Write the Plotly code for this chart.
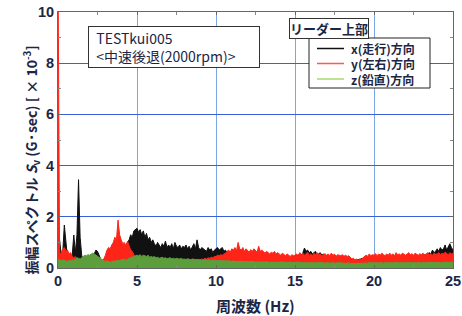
import numpy as np
import plotly.graph_objects as go

freq = np.round(np.arange(0, 25.001, 0.1), 1)

x_dir = [
 0.90,1.10,0.50,0.60,1.68,0.90,0.40,0.30,0.35,0.50,
 1.29,0.60,1.30,3.45,1.20,0.50,0.30,0.25,0.30,0.22,
 0.30,0.28,0.40,0.55,0.70,0.65,0.50,0.35,0.30,0.30,
 0.30,0.35,0.30,0.40,0.35,0.40,0.50,0.45,0.50,0.60,
 0.60,0.70,0.80,0.90,1.00,1.10,1.30,1.20,1.45,1.50,
 1.55,1.40,1.50,1.30,1.45,1.20,1.35,1.10,1.20,1.00,
 1.10,0.95,0.85,1.00,0.90,0.80,0.95,0.85,1.05,0.80,
 0.90,0.80,0.95,0.75,1.00,0.85,0.80,0.90,0.75,0.85,
 0.80,0.90,0.75,0.85,0.70,0.80,0.95,0.75,1.10,0.80,
 0.70,0.80,0.75,0.70,0.65,0.80,0.70,0.75,0.60,0.70,
 0.75,0.80,0.70,0.75,0.80,0.65,0.70,0.60,0.55,0.50,
 0.50,0.45,0.50,0.45,0.50,0.48,0.45,0.50,0.45,0.42,
 0.45,0.42,0.48,0.45,0.42,0.45,0.40,0.45,0.42,0.40,
 0.42,0.40,0.45,0.40,0.42,0.38,0.40,0.42,0.38,0.40,
 0.40,0.38,0.42,0.40,0.38,0.40,0.42,0.38,0.45,0.42,
 0.45,0.50,0.48,0.55,0.50,0.60,0.78,0.65,0.70,0.60,
 0.65,0.55,0.60,0.65,0.50,0.55,0.60,0.50,0.55,0.45,
 0.45,0.40,0.42,0.45,0.40,0.42,0.40,0.38,0.40,0.42,
 0.40,0.38,0.40,0.36,0.38,0.30,0.28,0.30,0.28,0.30,
 0.30,0.32,0.35,0.38,0.40,0.42,0.40,0.42,0.45,0.42,
 0.42,0.45,0.40,0.42,0.45,0.40,0.42,0.45,0.42,0.40,
 0.42,0.45,0.42,0.40,0.45,0.42,0.45,0.40,0.42,0.45,
 0.45,0.42,0.45,0.48,0.45,0.42,0.45,0.50,0.45,0.48,
 0.50,0.48,0.52,0.50,0.55,0.60,0.55,0.70,0.60,0.65,
 0.75,0.65,0.80,0.70,0.75,0.90,0.70,0.85,0.95,0.80,
 0.70]

y_dir = [
 12.0,0.50,0.60,0.75,0.80,0.65,0.70,0.55,0.60,0.45,
 0.40,0.45,0.35,0.30,0.25,0.20,0.20,0.15,0.15,0.15,
 0.15,0.15,0.20,0.20,0.20,0.20,0.20,0.25,0.30,0.35,
 0.50,0.70,0.80,0.75,0.90,1.00,1.20,1.10,1.87,1.30,
 1.10,0.95,1.00,0.85,1.05,0.90,0.70,0.65,0.50,0.40,
 0.40,0.35,0.40,0.35,0.38,0.32,0.36,0.30,0.35,0.32,
 0.30,0.34,0.30,0.33,0.30,0.32,0.30,0.34,0.30,0.32,
 0.30,0.33,0.30,0.32,0.30,0.34,0.30,0.32,0.30,0.33,
 0.30,0.32,0.35,0.30,0.33,0.30,0.35,0.32,0.30,0.34,
 0.32,0.35,0.33,0.38,0.35,0.40,0.38,0.42,0.40,0.45,
 0.45,0.50,0.48,0.52,0.50,0.55,0.58,0.65,0.70,0.62,
 0.75,0.70,0.80,0.68,1.00,0.75,0.70,0.80,0.65,0.75,
 0.70,0.62,0.72,0.65,0.75,0.68,0.62,0.85,0.65,0.70,
 0.62,0.58,0.65,0.60,0.55,0.62,0.58,0.65,0.55,0.60,
 0.55,0.50,0.58,0.52,0.48,0.55,0.50,0.45,0.52,0.48,
 0.50,0.55,0.48,0.60,0.52,0.58,0.50,0.55,0.62,0.50,
 0.55,0.48,0.58,0.52,0.60,0.50,0.55,0.48,0.52,0.56,
 0.50,0.55,0.48,0.58,0.50,0.54,0.46,0.52,0.50,0.48,
 0.52,0.46,0.50,0.45,0.48,0.40,0.35,0.38,0.32,0.35,
 0.30,0.35,0.32,0.40,0.45,0.50,0.46,0.55,0.48,0.52,
 0.50,0.56,0.48,0.55,0.50,0.58,0.52,0.48,0.55,0.50,
 0.58,0.50,0.55,0.48,0.60,0.52,0.55,0.50,0.58,0.52,
 0.50,0.55,0.60,0.52,0.56,0.50,0.58,0.54,0.50,0.56,
 0.52,0.58,0.50,0.55,0.60,0.52,0.56,0.50,0.58,0.54,
 0.55,0.60,0.52,0.58,0.55,0.62,0.56,0.52,0.60,0.55,
 0.58]

z_dir = [
 0.35,0.30,0.28,0.32,0.30,0.28,0.25,0.30,0.28,0.32,
 0.30,0.35,0.40,0.38,0.35,0.40,0.45,0.50,0.48,0.52,
 0.50,0.55,0.58,0.55,0.50,0.45,0.40,0.35,0.30,0.28,
 0.25,0.28,0.25,0.22,0.25,0.28,0.25,0.30,0.28,0.30,
 0.30,0.32,0.35,0.30,0.35,0.38,0.40,0.42,0.45,0.48,
 0.50,0.48,0.52,0.45,0.50,0.48,0.45,0.50,0.42,0.45,
 0.42,0.45,0.40,0.42,0.38,0.40,0.42,0.38,0.40,0.36,
 0.38,0.40,0.36,0.38,0.35,0.38,0.36,0.35,0.38,0.34,
 0.35,0.33,0.36,0.34,0.32,0.35,0.33,0.32,0.34,0.31,
 0.32,0.30,0.33,0.31,0.30,0.32,0.30,0.29,0.31,0.30,
 0.30,0.28,0.30,0.29,0.28,0.30,0.27,0.28,0.26,0.27,
 0.26,0.28,0.25,0.27,0.26,0.25,0.27,0.24,0.26,0.25,
 0.25,0.24,0.26,0.24,0.25,0.23,0.25,0.24,0.23,0.25,
 0.24,0.23,0.25,0.22,0.24,0.23,0.22,0.24,0.23,0.22,
 0.23,0.22,0.24,0.22,0.23,0.21,0.22,0.23,0.21,0.22,
 0.22,0.21,0.23,0.21,0.22,0.20,0.22,0.21,0.20,0.22,
 0.21,0.20,0.22,0.20,0.21,0.20,0.22,0.20,0.21,0.19,
 0.20,0.21,0.19,0.20,0.21,0.19,0.20,0.19,0.21,0.20,
 0.19,0.20,0.18,0.19,0.20,0.18,0.17,0.18,0.17,0.18,
 0.18,0.19,0.18,0.20,0.19,0.20,0.19,0.21,0.20,0.19,
 0.20,0.21,0.19,0.20,0.21,0.20,0.19,0.21,0.20,0.21,
 0.20,0.21,0.20,0.22,0.20,0.21,0.20,0.22,0.21,0.20,
 0.21,0.20,0.22,0.21,0.20,0.22,0.21,0.20,0.22,0.21,
 0.20,0.22,0.21,0.20,0.22,0.21,0.22,0.20,0.21,0.22,
 0.21,0.22,0.20,0.22,0.21,0.23,0.22,0.21,0.23,0.22,
 0.22]

series_names = ["x(走行)方向", "y(左右)方向", "z(鉛直)方向"]
data_colors = ["#111111", "#ff2418", "#5c9e3c"]
legend_colors = ["#111111", "#ff5a4a", "#a8d870"]
x_ticks = [0, 5, 10, 15, 20, 25]
y_ticks = [0, 2, 4, 6, 8, 10]
X_RANGE = [0, 25]
Y_RANGE = [0, 10]

JP = "Noto Sans CJK JP"
TXT = "#1c2644"

# figure geometry (pixels)
W, H = 462, 316
L, R, T, B = 58, 9, 12, 48
PW, PH = W - L - R, H - T - B


def px(xp):
    return (xp - L) / PW


def py(yp):
    return (H - B - yp) / PH


def dx(xp):
    # pixel -> x data units
    return X_RANGE[0] + px(xp) * (X_RANGE[1] - X_RANGE[0])


def dy(yp):
    # pixel -> y data units
    return Y_RANGE[0] + py(yp) * (Y_RANGE[1] - Y_RANGE[0])


fig = go.Figure()
for vals, name, col in zip([x_dir, y_dir, z_dir], series_names, data_colors):
    fig.add_trace(go.Scatter(x=freq, y=vals, mode="lines", fill="tozeroy", name=name,
                             fillcolor=col, line=dict(color=col, width=1),
                             showlegend=False, hoverinfo="skip"))

fig.update_layout(
    width=W, height=H,
    margin=dict(l=L, r=R, t=T, b=B, autoexpand=False),
    paper_bgcolor="white", plot_bgcolor="white",
    font=dict(family=JP, color=TXT),
    showlegend=False,
    xaxis=dict(range=X_RANGE, tickvals=x_ticks, showgrid=True,
               gridcolor="#7aa6e4", gridwidth=1, zeroline=False,
               showline=True, linecolor="#666", linewidth=1, mirror="ticks",
               ticks="inside", ticklen=3, tickcolor="#666",
               minor=dict(dtick=2.5, ticks="inside", ticklen=3, tickcolor="#888", showgrid=False),
               tickfont=dict(family="Liberation Sans", size=14.5, color=TXT, weight="bold")),
    yaxis=dict(range=Y_RANGE, tickvals=y_ticks, showgrid=True,
               gridcolor="#3b5fd6", gridwidth=1, zeroline=False,
               showline=True, linecolor="#666", linewidth=1, mirror="ticks",
               ticks="inside", ticklen=3, tickcolor="#666",
               minor=dict(dtick=1, ticks="inside", ticklen=3, tickcolor="#888", showgrid=False),
               tickfont=dict(family="Liberation Sans", size=14.5, color=TXT, weight="bold")),
)

# legend frame in data coordinates (white box over the gridlines)
fig.add_shape(type="rect", xref="x", yref="y",
              x0=dx(309), x1=dx(430), y0=dy(88), y1=dy(38),
              line=dict(color="#222222", width=1), fillcolor="white", layer="between")

legend_y = [48.5, 63.5, 79]
for name, col, yy in zip(series_names, legend_colors, legend_y):
    fig.add_shape(type="line", xref="paper", yref="paper",
                  x0=px(317), x1=px(344), y0=py(yy), y1=py(yy),
                  line=dict(color=col, width=1.5), layer="above")
    fig.add_annotation(xref="paper", yref="paper", x=px(349), y=py(yy),
                       xanchor="left", yanchor="middle", text=name, showarrow=False,
                       font=dict(family=JP, size=12, color=TXT, weight="bold"))

fig.add_annotation(xref="paper", yref="paper", x=0.5, y=py(305),
                   text="周波数 (Hz)", showarrow=False, yanchor="middle",
                   font=dict(family=JP, size=15, color=TXT, weight="bold"))
fig.add_annotation(xref="paper", yref="paper", x=px(18), y=py(160),
                   text="振幅スペクトル <i>S</i><sub>v</sub> (G·sec) [ × 10<sup>-3</sup>]",
                   textangle=-90, showarrow=False,
                   font=dict(family=JP, size=14, color=TXT, weight="bold"))
fig.add_annotation(xref="paper", yref="paper", x=px(88), y=py(26),
                   xanchor="left", yanchor="top", align="left", width=168,
                   text="&nbsp;&nbsp;TESTkui005<br>&nbsp;&nbsp;<中速後退(2000rpm)>", showarrow=False,
                   bordercolor="#333", borderwidth=1, bgcolor="white", borderpad=1,
                   font=dict(family=JP, size=14, color=TXT))
fig.add_annotation(xref="paper", yref="paper", x=px(369), y=py(28.5),
                   text="リーダー上部", showarrow=False, yanchor="middle",
                   bordercolor="#333", borderwidth=1, bgcolor="white", borderpad=0,
                   font=dict(family=JP, size=13, color=TXT, weight="bold"))

fig.write_html("out.html", config={"displayModeBar": False},
               post_script="document.body.style.margin='0';")
